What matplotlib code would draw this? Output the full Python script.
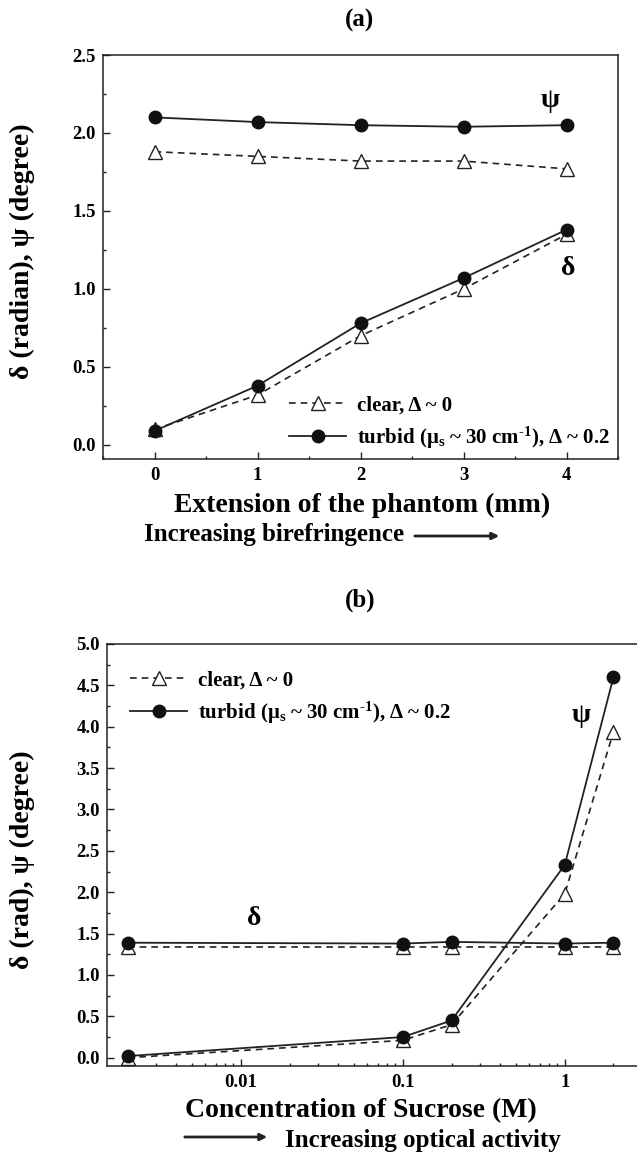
import matplotlib
matplotlib.use("Agg")
import matplotlib.pyplot as plt
from matplotlib.ticker import MultipleLocator, FixedLocator, NullFormatter, LogLocator

# ---------------- data ----------------
ext_mm = [0, 1, 2, 3, 4]
a_turbid_psi = [2.10, 2.07, 2.05, 2.04, 2.05]
a_clear_psi = [1.88, 1.85, 1.82, 1.82, 1.77]
a_turbid_delta = [0.09, 0.38, 0.78, 1.07, 1.38]
a_clear_delta = [0.10, 0.32, 0.70, 1.00, 1.35]

sucrose_M = [0.002, 0.1, 0.2, 1, 2]
b_turbid_psi = [0.02, 0.25, 0.45, 2.33, 4.60]
b_clear_psi = [0.00, 0.21, 0.40, 1.98, 3.94]
b_turbid_delta = [1.39, 1.38, 1.40, 1.38, 1.39]
b_clear_delta = [1.34, 1.34, 1.34, 1.34, 1.34]

label_clear = "clear, Δ ~ 0"
label_turbid = r"turbid (μ$_\mathrm{s}$ ~ 30 cm$^{\text{-1}}$), Δ ~ 0.2"

# ---------------- style ----------------
plt.rcParams['font.family'] = ['Liberation Serif', 'DejaVu Serif']
plt.rcParams['font.weight'] = 'bold'
plt.rcParams['mathtext.fontset'] = 'custom'
plt.rcParams['mathtext.rm'] = 'Liberation Serif:bold'
plt.rcParams['mathtext.it'] = 'Liberation Serif:bold'
plt.rcParams['mathtext.bf'] = 'Liberation Serif:bold'
plt.rcParams['mathtext.default'] = 'rm'
plt.rcParams['axes.linewidth'] = 1.1

W, H = 637, 1156
fig = plt.figure(figsize=(W / 100, H / 100), dpi=100)


def fx(px):
    return px / W


def fy(py):
    return 1 - py / H


def style_axes(ax):
    ax.tick_params(which='both', direction='in', top=False, right=False,
                   labelsize=13.5, width=1.0, color='#222222')
    ax.tick_params(which='major', length=5)
    ax.tick_params(which='minor', length=2.5)
    ax.tick_params(axis='x', pad=6)
    ax.tick_params(axis='y', pad=5)
    for lab in ax.get_xticklabels() + ax.get_yticklabels():
        lab.set_fontweight('bold')
    for s in ax.spines.values():
        s.set_color('#222222')


clear_kw = dict(color='#222222', lw=1.2, linestyle=(0, (4, 3)), marker='^',
                markersize=9.5, markerfacecolor='white', markeredgecolor='#222222',
                markeredgewidth=1.0)
turbid_kw = dict(color='#222222', lw=1.3, linestyle='-', marker='o',
                 markersize=9, markerfacecolor='#111111', markeredgecolor='#111111')

leg_kw = dict(frameon=False, fontsize=15, handlelength=2.75, handletextpad=0.5,
              labelspacing=0.45, borderpad=0, borderaxespad=0, numpoints=1)

# ---------------- panel (a) ----------------
axa = fig.add_axes([fx(103), fy(459), fx(618) - fx(103), fy(55) - fy(459)])
axa.plot(ext_mm, a_clear_psi, **clear_kw, label=label_clear)
axa.plot(ext_mm, a_clear_delta, **clear_kw)
axa.plot(ext_mm, a_turbid_psi, **turbid_kw, label=label_turbid)
axa.plot(ext_mm, a_turbid_delta, **turbid_kw)
axa.set_xlim(-0.5, 4.5)
axa.set_ylim(-0.09, 2.5)
axa.xaxis.set_major_locator(MultipleLocator(1))
axa.xaxis.set_minor_locator(MultipleLocator(0.5))
axa.yaxis.set_major_locator(MultipleLocator(0.5))
axa.yaxis.set_minor_locator(MultipleLocator(0.25))
axa.yaxis.set_major_formatter(matplotlib.ticker.FormatStrFormatter('%.1f'))
style_axes(axa)
axa.text(3.84, 2.21, "ψ", fontsize=20, fontweight='bold', ha='center', va='center')
axa.text(4.02, 1.13, "δ", fontsize=20, fontweight='bold', ha='center', va='center')
axa.legend(loc='lower right', bbox_to_anchor=(0.984, 0.02), **leg_kw)

fig.text(fx(360), fy(20), "(a)", fontsize=18, fontweight='bold', ha='center', va='center')
fig.text(fx(22), fy(251), "δ (radian), ψ (degree)", fontsize=20, fontweight='bold',
         rotation=90, ha='center', va='center')
fig.text(fx(362), fy(505), "Extension of the phantom (mm)", fontsize=20,
         fontweight='bold', ha='center', va='center')
fig.text(fx(144), fy(535), "Increasing birefringence", fontsize=18,
         fontweight='bold', ha='left', va='center')
fig.add_artist(matplotlib.patches.FancyArrowPatch(
    (fx(412), fy(536)), (fx(502), fy(536)), transform=fig.transFigure,
    arrowstyle='-|>', mutation_scale=10, lw=2.0, color='#222222'))

# ---------------- panel (b) ----------------
axb = fig.add_axes([fx(107), fy(1066), fx(642) - fx(107), fy(644) - fy(1066)])
axb.plot(sucrose_M, b_clear_psi, **clear_kw, label=label_clear)
axb.plot(sucrose_M, b_clear_delta, **clear_kw)
axb.plot(sucrose_M, b_turbid_psi, **turbid_kw, label=label_turbid)
axb.plot(sucrose_M, b_turbid_delta, **turbid_kw)
axb.set_xscale('log')
axb.set_xlim(0.00149, 3.0)
axb.set_ylim(-0.1, 5.0)
axb.xaxis.set_major_locator(FixedLocator([0.01, 0.1, 1]))
axb.xaxis.set_major_formatter(matplotlib.ticker.FixedFormatter(["0.01", "0.1", "1"]))
axb.xaxis.set_minor_locator(LogLocator(base=10, subs=range(2, 10), numticks=20))
axb.xaxis.set_minor_formatter(NullFormatter())
axb.yaxis.set_major_locator(MultipleLocator(0.5))
axb.yaxis.set_minor_locator(MultipleLocator(0.25))
axb.yaxis.set_major_formatter(matplotlib.ticker.FormatStrFormatter('%.1f'))
style_axes(axb)
axb.text(1.27, 4.14, "ψ", fontsize=20, fontweight='bold', ha='center', va='center')
axb.text(0.0121, 1.68, "δ", fontsize=20, fontweight='bold', ha='center', va='center')
axb.legend(loc='upper left', bbox_to_anchor=(0.043, 0.938), **leg_kw)

fig.text(fx(360), fy(600), "(b)", fontsize=18, fontweight='bold', ha='center', va='center')
fig.text(fx(22), fy(860), "δ (rad), ψ (degree)", fontsize=20, fontweight='bold',
         rotation=90, ha='center', va='center')
fig.text(fx(361), fy(1111), "Concentration of Sucrose (M)", fontsize=20,
         fontweight='bold', ha='center', va='center')
fig.text(fx(285), fy(1141), "Increasing optical activity", fontsize=18,
         fontweight='bold', ha='left', va='center')
fig.add_artist(matplotlib.patches.FancyArrowPatch(
    (fx(182), fy(1137)), (fx(270), fy(1137)), transform=fig.transFigure,
    arrowstyle='-|>', mutation_scale=10, lw=2.0, color='#222222'))

fig.savefig("out.png", dpi=100)
